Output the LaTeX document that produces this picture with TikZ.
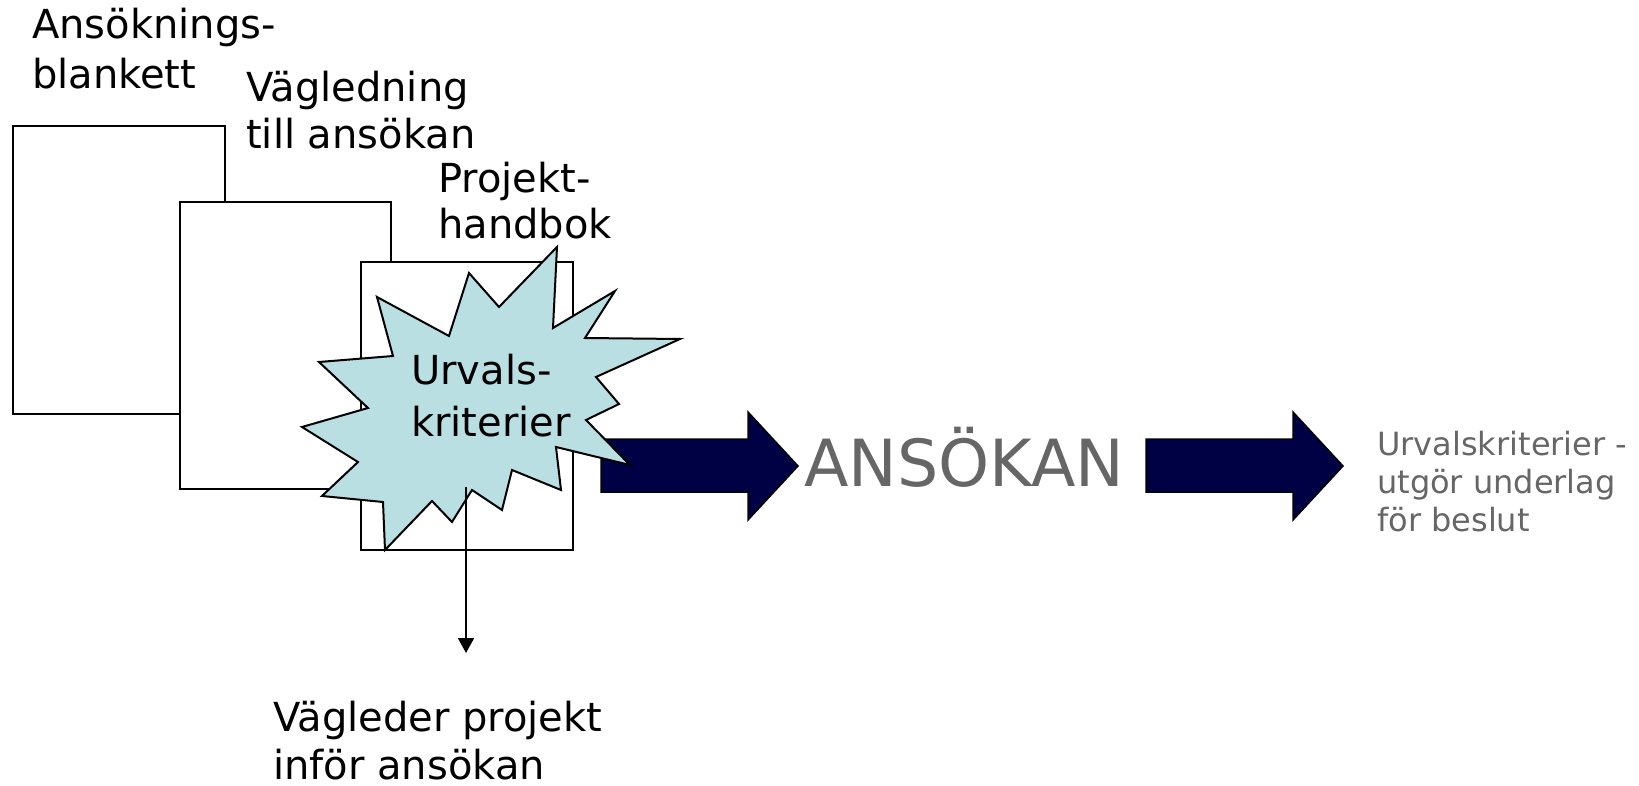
\documentclass[tikz,border=0pt]{standalone}
\usepackage{fontspec}
\setmainfont{DejaVu Sans}
\usetikzlibrary{arrows.meta}
\definecolor{star_blue}{RGB}{185,223,227}
\definecolor{arrow_navy}{RGB}{0,0,68}
\definecolor{text_grey}{RGB}{102,102,102}
\tikzstyle{doc_box} = [draw, line width=2pt, fill=white, inner sep=0pt, anchor=north west]
\tikzstyle{doc_label} = [inner sep=0pt, anchor=base west, align=left, font=\fontsize{40}{50}\selectfont]
\tikzstyle{star_burst} = [draw, line width=2pt, fill=star_blue, line join=miter]
\tikzstyle{block_arrow} = [draw=black, line width=1.5pt, fill=arrow_navy]
\tikzstyle{edge_guide} = [line width=2pt, -{Triangle[length=15pt,width=16pt]}]

\begin{document}
\begin{tikzpicture}[x=1pt,y=-1pt]
\useasboundingbox (0,0) rectangle (1639,786);

% the three documents
\node (blankett) at (11.5,125) [doc_box, minimum width=212pt, minimum height=288pt] {};
\node (vagledning) at (179,201) [doc_box, minimum width=211pt, minimum height=287pt] {};
\node (handbok) at (360,261) [doc_box, minimum width=212pt, minimum height=288pt] {};

% labels (anchored on their last line)
\node (blankett_txt) at (32,89) [doc_label] {Ansöknings-\\blankett};
\node (vagledning_txt) at (246,149) [doc_label, font=\fontsize{40}{47}\selectfont] {Vägledning\\till ansökan};
\node (handbok_txt) at (438,239) [doc_label, font=\fontsize{40}{46}\selectfont] {Projekt-\\handbok};

% first arrow, under the star
\draw[block_arrow] (601,439) -- (748,439) -- (748,412) -- (798,466)
  -- (748,520) -- (748,492) -- (601,492) -- cycle;

% the star
\draw[star_burst] (557,247) -- (553,328) -- (615,291) -- (585,338) -- (680,339)
  -- (596,377) -- (619,404) -- (586,420) -- (630,465) -- (556,447) -- (561,490)
  -- (512,470) -- (502,510) -- (472,490) -- (452,522) -- (432,501) -- (385,550)
  -- (383,502) -- (322,496) -- (358,462) -- (302,427) -- (368,408) -- (319,362)
  -- (393,356) -- (377,297) -- (449,336) -- (469,273) -- (499,307) -- cycle;
\node (urval) at (411,436) [doc_label, font=\fontsize{40}{52}\selectfont] {Urvals-\\kriterier};

\coordinate (star_foot) at (466,487);
\coordinate (guide_tip) at (466,653);
\draw[edge_guide] (star_foot) -- (guide_tip);
\node (guide_txt) at (273,779) [doc_label, font=\fontsize{40}{48}\selectfont] {Vägleder projekt\\inför ansökan};

\node (ansokan) at (804,486) [doc_label, text=text_grey, font=\fontsize{65}{70}\selectfont] {ANSÖKAN};

% second arrow
\draw[block_arrow] (1146,439) -- (1293,439) -- (1293,412) -- (1343,466)
  -- (1293,520) -- (1293,492) -- (1146,492) -- cycle;

\node (beslut) at (1377,531) [doc_label, text=text_grey, font=\fontsize{32}{38}\selectfont] {Urvalskriterier -\\utgör underlag\\för beslut};
\end{tikzpicture}
\end{document}
